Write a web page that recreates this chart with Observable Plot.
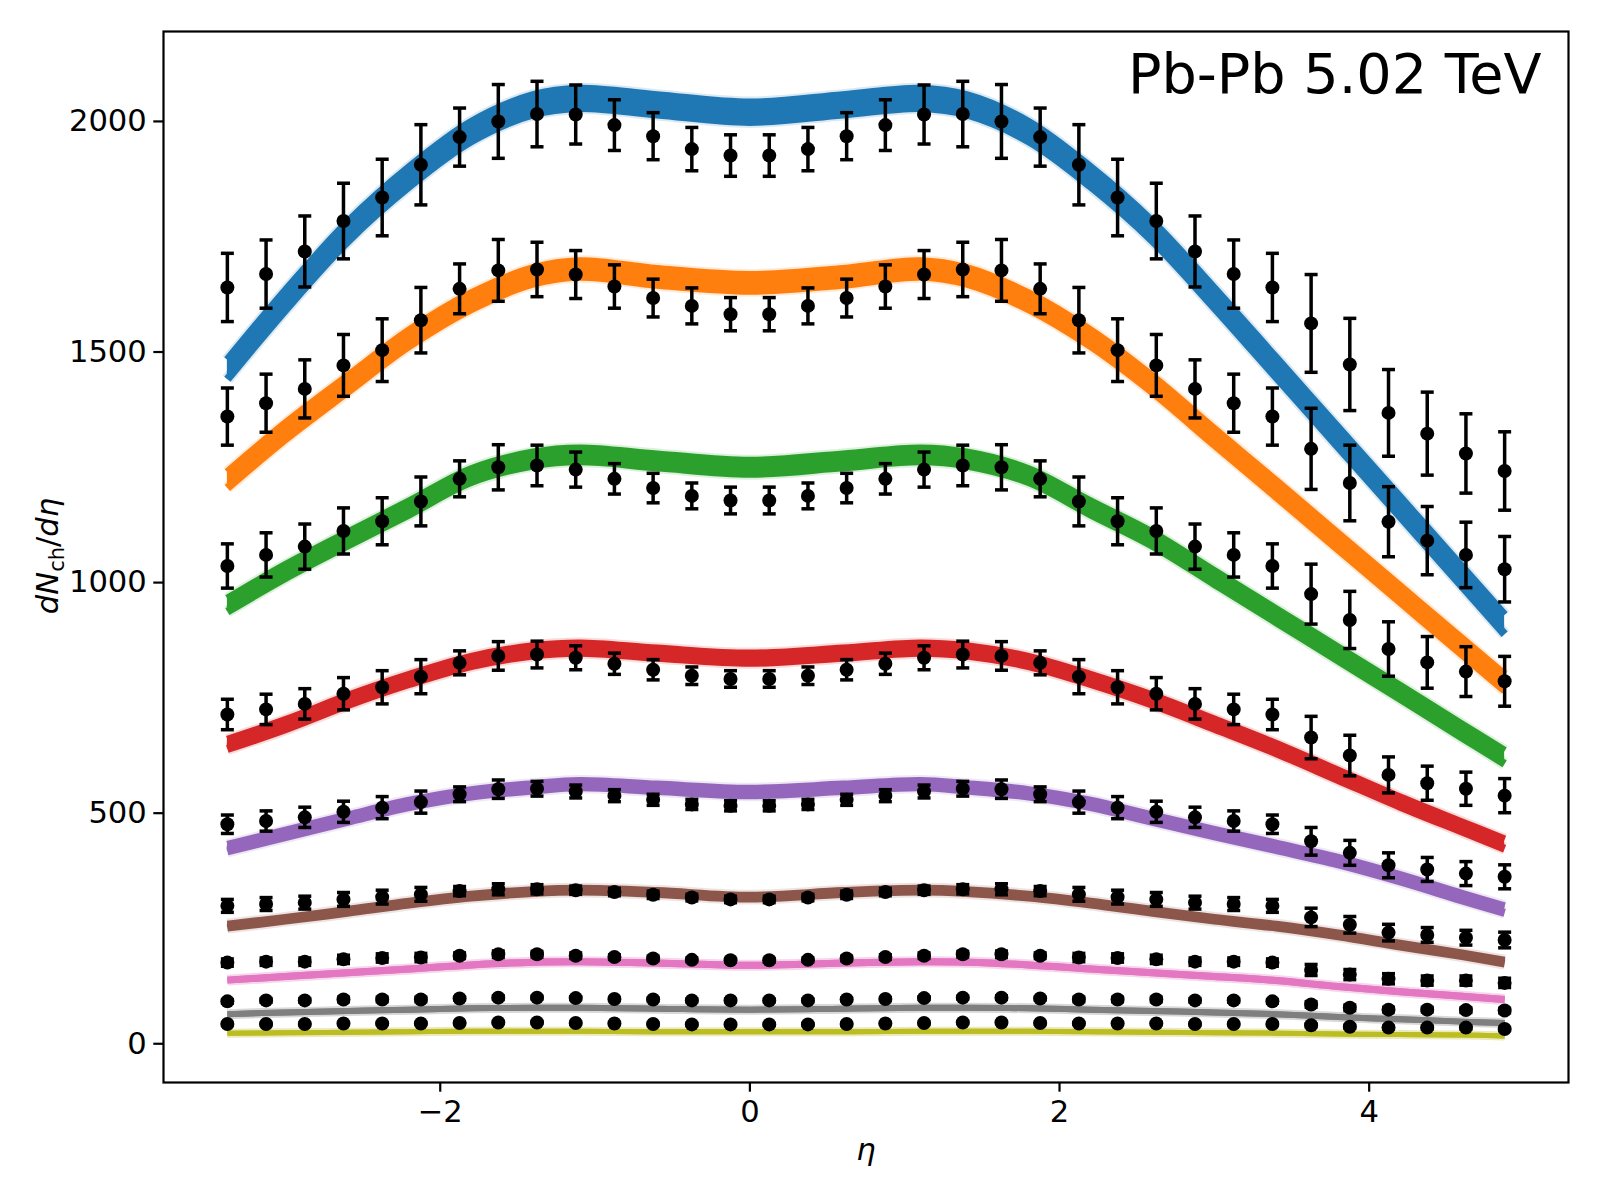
<!DOCTYPE html>
<html>
<head>
<meta charset="utf-8">
<script src="https://cdn.jsdelivr.net/npm/d3@7"></script>
<script src="https://cdn.jsdelivr.net/npm/@observablehq/plot@0.6"></script>
<style>
  html, body { margin: 0; padding: 0; background: #ffffff; }
  #chart { width: 1600px; height: 1200px; }
</style>
</head>
<body>
<div id="chart"></div>
<script>
// ---------------- data ----------------
const eta = [-3.375,-3.125,-2.875,-2.625,-2.375,-2.125,-1.875,-1.625,-1.375,-1.125,-0.875,-0.625,-0.375,-0.125,
             0.125,0.375,0.625,0.875,1.125,1.375,1.625,1.875,2.125,2.375,2.625,2.875,3.125,3.375,
             3.625,3.875,4.125,4.375,4.625,4.875];

const dataBlue   = [1640,1669,1718,1784,1835,1906,1966,2000,2016,2015,1992,1968,1940,1926,
                    1926,1940,1968,1992,2015,2016,2000,1966,1906,1835,1784,1718,1669,1640,
                    1562,1473,1368,1323,1280,1242];
const errBlue    = [74,74,77,82,83,87,63,80,71,64,55,51,47,45,
                    45,47,51,55,64,71,80,63,87,83,82,77,74,74,
                    106,100,94,90,86,85];
const dataOrange = [1360,1389,1420,1471,1504,1569,1637,1677,1679,1668,1642,1617,1600,1582,
                    1582,1600,1617,1642,1668,1679,1677,1637,1569,1504,1471,1420,1389,1360,
                    1290,1216,1132,1091,1060,1029];
const errOrange  = [62,63,63,67,68,71,54,67,59,52,47,41,39,36,
                    36,39,41,47,52,59,67,54,71,68,67,63,63,62,
                    88,82,76,74,71,71];
const dataGreen  = [1036,1060,1078,1112,1133,1176,1225,1250,1254,1245,1225,1205,1188,1178,
                    1178,1188,1205,1225,1245,1254,1250,1225,1176,1133,1112,1078,1060,1036,
                    975,919,856,827,807,786];
const errGreen   = [48,48,49,50,51,53,39,49,44,38,33,32,28,29,
                    29,28,32,33,38,44,49,39,53,51,50,49,48,48,
                    65,62,59,56,54,54];
const dataRed    = [714,725,737,759,773,796,826,841,844,837,824,811,798,791,
                    791,798,811,824,837,844,841,826,796,773,759,737,725,714,
                    664,625,583,565,553,538];
const errRed     = [33,33,33,35,36,37,26,31,29,26,23,22,19,18,
                    18,19,22,23,26,29,31,26,37,36,35,33,33,33,
                    46,44,39,37,36,37];
const dataPurple = [476,483,491,503,512,524,541,552,553,547,538,529,519,516,
                    516,519,529,538,547,553,552,541,524,512,503,491,483,476,
                    439,414,387,378,369,362];
const errPurple  = [20,22,22,23,24,24,16,20,16,14,13,12,11,11,
                    11,11,12,13,14,16,20,16,24,24,23,22,22,20,
                    30,27,27,26,26,26];
const dataBrown  = [299,303,306,313,318,324,331,335,335,333,329,323,317,313,
                    313,317,323,329,333,335,335,331,324,318,313,306,303,299,
                    274,258,241,236,230,225];
const errBrown   = [14,14,14,15,15,15,10,12,10,9,8,8,7,7,
                    7,7,8,8,9,10,12,10,15,15,15,14,14,14,
                    20,18,18,16,16,17];
const dataPink   = [176,178,178,183,186,187,191,194,194,191,188,185,182,181,
                    181,182,185,188,191,194,194,191,187,186,183,178,178,176,
                    160,150,141,137,137,132];
const errPink    = [8,8,8,9,9,9,6,7,6,6,5,5,4,4,
                    4,4,5,5,6,6,7,6,9,9,9,8,8,8,
                    12,11,11,10,10,10];
const dataGray   = [92,94,94,96,96,96,98,100,100,99,97,96,94,94,
                    94,94,96,97,99,100,100,98,96,96,96,94,94,92,
                    85,78,74,74,73,72];
const errGray    = [4,4,4,5,5,5,3,4,3,3,3,3,3,3,
                    3,3,3,3,3,3,4,3,5,5,5,4,4,4,
                    6,6,5,5,5,5];
const dataOlive  = [43,43,43,44,44,44,45,46,46,45,44,43,42,42,
                    42,42,43,44,45,46,46,45,44,44,44,43,43,43,
                    40,37,35,35,35,32];
const errOlive   = [2,2,2,2,2,2,2,2,2,2,2,2,2,2,
                    2,2,2,2,2,2,2,2,2,2,2,2,2,2,
                    3,3,3,3,3,3];

// model curves (centre of the band)
const etaModel    = [-3.375,-3.0,-2.6,-2.2,-1.8,-1.4,-1.1,-0.6,0,0.6,1.1,1.4,1.8,2.2,2.6,3.0,3.4,3.8,4.2,4.6,4.875];
const modelBlue   = [1462,1612,1760,1880,1978,2036,2050,2036,2020,2036,2050,2036,1978,1880,1762,1617,1466,1315,1164,1013,909];
const modelOrange = [1222,1328,1430,1530,1610,1665,1680,1663,1650,1663,1680,1665,1610,1530,1430,1316,1203,1089,975,861,783];
const modelGreen  = [951,1024,1094,1162,1232,1268,1277,1264,1250,1264,1277,1268,1232,1162,1094,1011,928,845,762,678,621];
const modelRed    = [649,692,744,790,829,852,858,847,836,847,858,852,829,790,745,693,640,582,524,470,433];
const modelPurple = [424,455,488,520,543,556,563,555,546,555,563,556,543,520,488,457,427,396,359,318,291];
const modelBrown  = [255,270,287,305,320,330,333,328,318,328,333,330,320,305,287,270,255,236,214,193,177];
const modelPink   = [138,146,154,162,171,177,178,175,170,175,178,177,171,162,154,146,137,124,113,103,96];
const modelGray   = [64,68,71,74,77,78,78,76,74,76,78,78,77,74,71,68,64,58,53,48,45];
const modelOlive  = [23,24,25,26,27,27,27,26,26,26,27,27,27,26,25,24,23,21,20,19,17];
// model uncertainty (half spread of the band, dN/deta units)
const modelSpread = [21,17,14,10,7,3,0,0,0];

const xTicks = [-2, 0, 2, 4];
const yTicks = [0, 500, 1000, 1500, 2000];
const titleText = "Pb-Pb 5.02 TeV";

// ---------------- styles ----------------
const colors = ["#1f77b4","#ff7f0e","#2ca02c","#d62728","#9467bd","#8c564b","#e377c2","#7f7f7f","#bcbd22"];
const lineWidths = [8,8,8,8,8,8,7,6,5];
const FONT = 30.6;

const dataSeries  = [dataBlue,dataOrange,dataGreen,dataRed,dataPurple,dataBrown,dataPink,dataGray,dataOlive];
const errSeries   = [errBlue,errOrange,errGreen,errRed,errPurple,errBrown,errPink,errGray,errOlive];
const modelSeries = [modelBlue,modelOrange,modelGreen,modelRed,modelPurple,modelBrown,modelPink,modelGray,modelOlive];

const points = [];
dataSeries.forEach((vals, i) => vals.forEach((v, j) => points.push({s: i, x: eta[j], y: v, e: errSeries[i][j]})));
const bands = modelSeries.map((vals, i) => vals.map((v, j) => ({
  s: i, x: etaModel[j], y: v, lo: v - modelSpread[i], hi: v + modelSpread[i]
})));

const capSymbol = {
  draw(ctx, size) { const r = Math.sqrt(size / Math.PI); ctx.moveTo(-r, 0); ctx.lineTo(r, 0); }
};

const marks = [];
bands.forEach((b, i) => {
  const c = colors[i], w = lineWidths[i];
  const common = {x: "x", stroke: c, curve: "catmull-rom", strokeLinecap: "butt", strokeLinejoin: "round"};
  marks.push(Plot.line(b, {...common, y: "lo", strokeWidth: w + 4, strokeOpacity: 0.16}));
  marks.push(Plot.line(b, {...common, y: "hi", strokeWidth: w + 4, strokeOpacity: 0.16}));
  marks.push(Plot.areaY(b, {x: "x", y1: "lo", y2: "hi", fill: c, curve: "catmull-rom"}));
  marks.push(Plot.line(b, {...common, y: "lo", strokeWidth: w}));
  marks.push(Plot.line(b, {...common, y: "hi", strokeWidth: w}));
});
marks.push(Plot.ruleX(points, {x: "x", y1: d => d.y - d.e, y2: d => d.y + d.e, stroke: "black", strokeWidth: 3.5}));
marks.push(Plot.dot(points, {x: "x", y: d => d.y + d.e, symbol: capSymbol, r: 6.5, stroke: "black", strokeWidth: 3.5, fill: "none"}));
marks.push(Plot.dot(points, {x: "x", y: d => d.y - d.e, symbol: capSymbol, r: 6.5, stroke: "black", strokeWidth: 3.5, fill: "none"}));
marks.push(Plot.dot(points, {x: "x", y: "y", r: 7, fill: "black", stroke: "none"}));
marks.push(Plot.frame({stroke: "black", strokeWidth: 2.2}));
marks.push(Plot.axisX({ticks: xTicks, tickSize: 9.7, tickPadding: 8, tickFormat: d3.format("d"), label: null, strokeWidth: 2.2}));
marks.push(Plot.axisY({ticks: yTicks, tickSize: 9.7, tickPadding: 7, tickFormat: d3.format("d"), label: null, strokeWidth: 2.2}));
marks.push(Plot.text([titleText], {frameAnchor: "top-right", dx: -27, dy: 22, lineAnchor: "top", textAnchor: "end", fontSize: 55.6, fill: "black"}));

const chart = Plot.plot({
  width: 1600,
  height: 1200,
  marginTop: 31,
  marginRight: 32,
  marginBottom: 118,
  marginLeft: 163,
  x: {domain: [-3.7875, 5.2875]},
  y: {domain: [-84, 2195]},
  style: {fontFamily: "DejaVu Sans", fontSize: FONT + "px", color: "black", background: "white", overflow: "visible"},
  marks
});

const svg = d3.select(chart);
// y axis label: dN_ch/dη
const yl = svg.append("text")
  .attr("transform", "translate(58,556) rotate(-90)")
  .attr("text-anchor", "middle")
  .attr("font-family", "DejaVu Sans")
  .attr("font-size", FONT)
  .attr("fill", "black");
yl.append("tspan").attr("font-style", "italic").text("dN");
yl.append("tspan").attr("font-size", 21).attr("dy", 6).text("ch");
yl.append("tspan").attr("dy", -6).text("/");
yl.append("tspan").attr("font-style", "italic").text("dη");
// x axis label: η
svg.append("text")
  .attr("x", 866).attr("y", 1160)
  .attr("text-anchor", "middle")
  .attr("font-family", "DejaVu Sans")
  .attr("font-style", "italic")
  .attr("font-size", FONT)
  .attr("fill", "black")
  .text("η");

document.getElementById("chart").appendChild(chart);
</script>
</body>
</html>
